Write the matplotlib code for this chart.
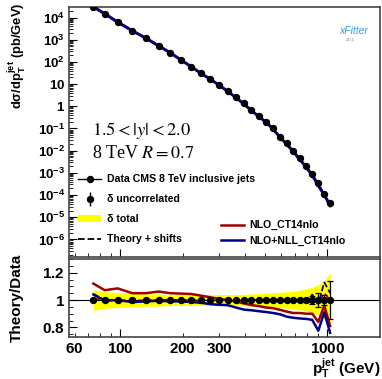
import numpy as np
import matplotlib
matplotlib.use("Agg")
import matplotlib.pyplot as plt
from matplotlib.lines import Line2D
from matplotlib.patches import Patch
from matplotlib.legend_handler import HandlerTuple
from matplotlib.ticker import FixedLocator, FuncFormatter, LogLocator, NullFormatter, MultipleLocator

plt.rcParams['font.family'] = ['Liberation Sans', 'DejaVu Sans']
plt.rcParams['mathtext.fontset'] = 'custom'
plt.rcParams['mathtext.rm'] = 'Liberation Sans:bold'
plt.rcParams['mathtext.it'] = 'Liberation Sans:bold'
plt.rcParams['mathtext.bf'] = 'Liberation Sans:bold'
plt.rcParams['mathtext.default'] = 'rm'

# data: CMS 8 TeV inclusive jets, 1.5<|y|<2.0
pt = [74, 84, 97, 114, 133, 153, 174, 196, 220, 245, 272, 300, 330, 362,
      395, 430, 468, 507, 548, 592, 638, 686, 737, 790, 846, 905, 967, 1032]
xsec = [2.88e4, 1.44e4, 6.08e3, 2.54e3, 1.16e3, 520, 259, 122, 60.8, 30.6,
        17.0, 9.1, 4.89, 2.54, 1.36, 0.68, 0.366, 0.202, 0.102, 0.0428,
        0.0215, 0.0100, 4.55e-3, 2.05e-3, 8.9e-4, 3.4e-4, 1.09e-4, 4.3e-5]
ratio_nlo = [1.12, 1.072, 1.085, 1.05, 1.05, 1.062, 1.05, 1.047, 1.044, 1.032,
             1.02, 1.008, 1.0, 0.99, 0.975, 0.963, 0.955, 0.945, 0.94, 0.928,
             0.915, 0.905, 0.905, 0.9, 0.9, 0.84, 0.96, 0.81]
ratio_nll = [1.04, 0.995, 1.0, 0.985, 0.99, 0.995, 0.99, 0.99, 0.985, 0.98,
             0.97, 0.965, 0.962, 0.945, 0.93, 0.925, 0.918, 0.912, 0.905, 0.895,
             0.878, 0.87, 0.865, 0.862, 0.855, 0.775, 0.91, 0.76]
shift_nlo = [1.01, 1.0, 1.0, 0.995, 1.0, 1.0, 1.0, 1.0, 1.0, 1.0,
             1.0, 1.0, 1.0, 1.0, 1.0, 1.0, 1.0, 1.0, 1.0, 1.0,
             1.0, 1.0, 1.0, 1.0, 1.01, 0.98, 1.05, 1.0]
shift_nll = [1.045, 1.0, 1.0, 0.99, 0.995, 1.0, 1.0, 1.0, 0.995, 0.995,
             0.995, 1.0, 1.0, 1.0, 1.0, 1.0, 1.0, 1.0, 1.0, 1.0,
             1.0, 1.0, 1.0, 1.0, 1.04, 0.97, 1.13, 1.05]
err_tot = [0.075, 0.06, 0.055, 0.05, 0.045, 0.045, 0.04, 0.04, 0.04, 0.04,
           0.04, 0.04, 0.04, 0.04, 0.042, 0.044, 0.046, 0.05, 0.053, 0.056,
           0.06, 0.065, 0.072, 0.08, 0.095, 0.11, 0.14, 0.2]
err_unc = [0.004, 0.004, 0.005, 0.012, 0.004, 0.004, 0.004, 0.004, 0.004, 0.004,
           0.004, 0.004, 0.004, 0.004, 0.004, 0.005, 0.005, 0.006, 0.006, 0.007,
           0.008, 0.009, 0.01, 0.015, 0.03, 0.05, 0.04, 0.14]
decades = [1e-6, 1e-5, 1e-4, 1e-3, 1e-2, 1e-1, 1, 10, 100, 1e3, 1e4]

pt = np.array(pt)
xsec = np.array(xsec)
ones = np.ones(len(pt))
red = '#a00000'
blue = '#00008b'
frame = '#444444'

fig = plt.figure(figsize=(3.82, 3.79), dpi=100)
ax = fig.add_axes([0.181, 0.322, 0.814, 0.6595])
rx = fig.add_axes([0.181, 0.111, 0.814, 0.2056])

# top panel
ax.plot(pt, xsec, color='k', lw=1.0, zorder=2)
ax.plot(pt, xsec * np.array(ratio_nlo), color=red, lw=1.6, zorder=3)
ax.plot(pt, xsec * np.array(ratio_nll), color=blue, lw=2.0, zorder=4)
ax.plot(pt, xsec, 'o', color='k', ms=4.3, zorder=5)
ax.set_xscale('log')
ax.set_yscale('log')
ax.set_xlim(56.5, 1800)
ax.set_ylim(1.63e-7, 2.97e4)

def sci(v, pos):
    n = int(round(np.log10(v)))
    if n == 0:
        return '$1$'
    if n == 1:
        return '$10$'
    return r'$10^{%d}$' % n

ax.yaxis.set_major_locator(FixedLocator(decades))
ax.yaxis.set_major_formatter(FuncFormatter(sci))
ax.yaxis.set_minor_locator(LogLocator(base=10, subs=np.arange(2, 10), numticks=20))
ax.yaxis.set_minor_formatter(NullFormatter())
ax.xaxis.set_major_locator(FixedLocator([100, 1000]))
ax.xaxis.set_minor_locator(FixedLocator([60, 70, 80, 90, 200, 300, 400, 500, 600, 700, 800, 900]))
ax.xaxis.set_major_formatter(NullFormatter())
ax.xaxis.set_minor_formatter(NullFormatter())
ax.tick_params(axis='y', which='major', labelsize=9.5, direction='in', length=6, width=0.8, pad=3)
ax.tick_params(axis='y', which='minor', direction='in', length=3, width=0.6)
ax.tick_params(axis='x', which='major', direction='in', length=6, width=0.8)
ax.tick_params(axis='x', which='minor', direction='in', length=3, width=0.6)

ax.text(0.074, 0.505, r'$1.5 < |\mathit{y}| < 2.0$', transform=ax.transAxes, math_fontfamily='stix',
        fontsize=13.2, va='center', ha='left')
ax.text(0.074, 0.414, r'8 TeV $\mathit{R} = 0.7$', transform=ax.transAxes, math_fontfamily='stix',
        family='Liberation Serif', fontsize=13, va='center', ha='left')

h_data = Line2D([], [], color='k', lw=1.0, marker='o', ms=4.3)
h_unc = (Line2D([], [], color='k', marker='|', ms=10, ls='none'),
         Line2D([], [], color='k', marker='o', ms=4.3, ls='none'))
h_tot = Patch(facecolor='yellow', edgecolor='none')
h_shift = Line2D([], [], color='k', lw=1.3, ls='--')
leg1 = ax.legend([h_data, h_unc, h_tot, h_shift],
                 ['Data CMS 8 TeV inclusive jets', 'δ uncorrelated', 'δ total', 'Theory + shifts'],
                 handler_map={tuple: HandlerTuple(ndivide=1)},
                 loc='upper left', bbox_to_anchor=(0.015, 0.348), frameon=False,
                 prop={'size': 7.6, 'weight': 'bold'}, handlelength=2.2, handletextpad=0.5,
                 labelspacing=0.95, borderaxespad=0)
ax.add_artist(leg1)
h_nlo = Line2D([], [], color=red, lw=1.8)
h_nll = Line2D([], [], color=blue, lw=1.8)
ax.legend([h_nlo, h_nll], ['NLO_CT14nlo', 'NLO+NLL_CT14nlo'],
          loc='lower left', bbox_to_anchor=(0.474, 0.026), frameon=False,
          prop={'size': 7.6, 'weight': 'bold'}, handlelength=2.2, handletextpad=0.5,
          labelspacing=0.55, borderaxespad=0)

# xFitter logo
ax.text(0.915, 0.905, 'xFitter', transform=ax.transAxes, color='#3c9ad6', fontsize=7.5,
        style='italic', ha='center', va='center')
ax.text(0.905, 0.868, '2.0.1', transform=ax.transAxes, color='#777777', fontsize=3,
        ha='center', va='center')

# ratio panel
rx.fill_between(pt, ones - np.array(err_tot), ones + np.array(err_tot),
                color='yellow', lw=0, zorder=1)
rx.axhline(1.0, color='k', lw=0.8, zorder=2)
rx.plot(pt, ratio_nlo, color=red, lw=1.8, zorder=3)
rx.plot(pt, ratio_nll, color=blue, lw=1.8, zorder=3)
rx.plot(pt, shift_nlo, color=red, lw=1.2, ls='--', zorder=4)
rx.plot(pt, shift_nll, color=blue, lw=1.2, ls='--', zorder=4)
rx.errorbar(pt, ones, yerr=err_unc, fmt='o', color='k', ms=4.3, elinewidth=0.9,
            capsize=2, capthick=0.9, zorder=5)
rx.set_xscale('log')
rx.set_xlim(56.5, 1800)
rx.set_ylim(0.73, 1.3)
rx.yaxis.set_major_locator(FixedLocator([0.8, 1.0, 1.2]))
rx.yaxis.set_major_formatter(FuncFormatter(lambda v, p: '$1$' if abs(v - 1) < 1e-6 else '$%.1f$' % v))
rx.yaxis.set_minor_locator(MultipleLocator(0.05))
rx.yaxis.set_minor_formatter(NullFormatter())
rx.xaxis.set_major_locator(FixedLocator([100, 1000]))
rx.xaxis.set_minor_locator(FixedLocator([60, 70, 80, 90, 200, 300, 400, 500, 600, 700, 800, 900]))
rx.xaxis.set_major_formatter(FuncFormatter(lambda v, p: '$%d$' % v))
rx.xaxis.set_minor_formatter(FuncFormatter(lambda v, p: '$%d$' % v if v in (60, 200, 300) else ''))
rx.tick_params(axis='both', which='both', direction='in', labelsize=11)
rx.tick_params(axis='y', which='major', length=6, width=0.8, pad=3)
rx.tick_params(axis='y', which='minor', length=3, width=0.6)
rx.tick_params(axis='x', which='major', length=6, width=0.8, pad=4)
rx.tick_params(axis='x', which='minor', length=3, width=0.6, pad=4)

for a in (ax, rx):
    for s in a.spines.values():
        s.set_color(frame)
        s.set_linewidth(1.2)

fig.text(17 / 382, 1 - 3 / 379, r'd$\sigma$/dp$_{T}^{jet}$ (pb/GeV)', rotation=90,
         ha='center', va='top', fontsize=9.4, fontweight='bold')
fig.text(17 / 382, 1 - 298 / 379, 'Theory/Data', rotation=90,
         ha='center', va='center', fontsize=11, fontweight='bold')
fig.text(0.995, 1 - 368 / 379, r'p$_{T}^{jet}$ (GeV)', ha='right', va='center',
         fontsize=11, fontweight='bold')

fig.savefig('out.png', dpi=100)
